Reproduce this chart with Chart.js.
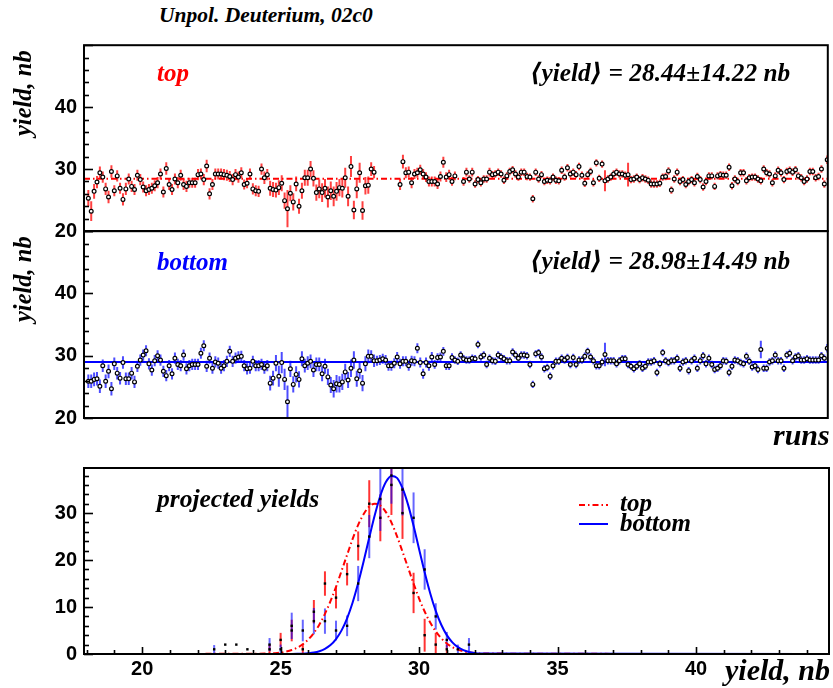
<!DOCTYPE html>
<html>
<head>
<meta charset="utf-8">
<script src="https://cdn.jsdelivr.net/npm/chart.js@4.4.1/dist/chart.umd.min.js"></script>
<style>
  html, body { margin: 0; padding: 0; background: #fff; }
  #page { position: relative; width: 833px; height: 688px; overflow: hidden; background: #fff; }
  canvas { position: absolute; left: 0; }
  .t { position: absolute; font-family: "Liberation Serif", "DejaVu Serif", serif; font-weight: bold;
       font-style: italic; white-space: nowrap; line-height: 1; color: #000; }
  .rot { transform-origin: left top; transform: rotate(-90deg); }
</style>
</head>
<body>
<div id="page">
  <canvas id="cTop" width="833" height="200" style="top:40px"></canvas>
  <canvas id="cMid" width="833" height="200" style="top:226px"></canvas>
  <canvas id="cHist" width="833" height="228" style="top:460px"></canvas>

  <div class="t" style="left:159px;top:5px;font-size:21.5px;">Unpol. Deuterium, 02c0</div>
  <div class="t rot" style="left:11px;top:136px;font-size:24.5px;">yield, nb</div>
  <div class="t rot" style="left:11px;top:322px;font-size:24.5px;">yield, nb</div>
  <div class="t" style="left:157px;top:60px;font-size:25px;color:#f00;">top</div>
  <div class="t" id="meanTopLabel" style="left:530px;top:60px;font-size:25.3px;"></div>
  <div class="t" style="left:157px;top:249px;font-size:25px;color:#00f;">bottom</div>
  <div class="t" id="meanBottomLabel" style="left:530px;top:248px;font-size:25.3px;"></div>
  <div class="t" style="left:773px;top:420px;font-size:30px;">runs</div>
  <div class="t" style="left:157px;top:486px;font-size:25.5px;">projected yields</div>
  <div class="t" style="left:620px;top:490px;font-size:25px;">top</div>
  <div class="t" style="left:620px;top:510px;font-size:25px;">bottom</div>
  <div class="t" style="left:725px;top:655px;font-size:30px;">yield, nb</div>
</div>

<script>
// ---------- per-run yields (nb), upper and lower detector halves ----------
const runsTop = [
  25.3, 23.2, 26.4, 27.9, 29.4, 28.7, 26.8, 25.5, 29.6, 26.5,
  28.9, 26.9, 25.1, 26.8, 28.4, 27.2, 26.7, 29.0, 28.3, 27.1,
  26.5, 26.7, 26.9, 27.3, 27.8, 29.2, 26.3, 30.1, 27.5, 26.7,
  28.4, 27.8, 29.0, 27.5, 27.2, 27.8, 27.8, 27.8, 29.1, 29.2,
  28.3, 30.5, 26.0, 27.5, 29.2, 29.2, 29.2, 29.1, 29.0, 28.8,
  28.3, 29.1, 28.7, 29.4, 27.5, 27.7, 29.2, 26.8, 26.5, 26.4,
  30.0, 28.6, 29.1, 26.9, 26.7, 26.6, 27.0, 27.7, 24.9, 23.6,
  26.1, 24.7, 27.6, 24.0, 26.5, 28.6, 28.6, 30.0, 28.5, 26.2,
  26.8, 26.2, 26.9, 25.5, 26.5, 25.6, 26.4,
  27.0, 26.9, 28.6, 25.6, 30.4, 23.4, 26.8, 29.4, 23.3, 27.3, 27.4, 30.0, 29.5,
  null, null, null, null, null, null, null, null,
  27.5, 31.2, 29.4, 29.5, 27.8, 29.2, 29.4, 29.9, 29.2, 28.7,
  28.0, 28.0, 28.0, 27.6, 28.8, 31.1, 28.7, 29.1, 28.0, 28.9,
  null, null,
  28.0, 29.5, 28.4, 29.5, 27.6, 28.3, 27.8, 28.4, 28.4, 29.5,
  29.1, 29.2, 29.5, 29.2, 28.2, 28.9, 29.6, 29.9, 29.2, 28.7,
  29.5, 29.5, 28.8, 28.7, 25.2, 29.5, 28.4, 29.1, 28.0, 28.2,
  28.1, 28.7, 28.2, 28.1, 29.8, 28.7, 30.2, 29.2, 29.5, 29.1,
  30.4, 29.0, 27.7,
  29.1, 29.6, 27.8, 31.0, 28.5, 30.8, 28.1, 28.4, 28.7, 29.2,
  29.5, 29.2, 29.2, 29.0, 29.1, 28.3, 28.4, 28.7, 28.3, 28.6,
  28.4, 28.2, 27.6, 27.6, 27.6, 27.7, 28.7, 28.8, 29.7, 26.6,
  28.4, 29.5, 28.0, 28.3, 27.5, 28.0, 28.3, 27.8, 28.8, 28.3,
  27.1, 28.0, 28.9, 28.9, 27.2, 28.9, 29.1, 29.0, 29.0, 30.3,
  27.3, 28.4, 28.0, 29.4, 29.4, 28.1, 28.6, 28.7, 28.7, 28.4,
  28.1, 30.0, 29.4, 29.2, 27.8, 28.9, 29.8, 29.4, 28.3, 29.6,
  29.8, 29.5, 29.9, 28.9, 28.6, 28.0, 28.4, 29.6, 29.6, 28.6,
  28.8, 30.0, 27.6, 31.5
];
const runsTopErr = [
  1.3, 1.6, 1.2, 1.0, 1.0, 0.9, 1.0, 1.0, 1.0, 0.9,
  0.9, 0.9, 1.0, 1.0, 0.9, 0.9, 0.9, 0.9, 0.9, 0.9,
  0.9, 0.9, 0.9, 0.9, 0.9, 0.9, 0.9, 1.0, 0.9, 0.9,
  0.9, 0.9, 0.9, 0.9, 0.9, 0.8, 0.8, 0.8, 0.9, 0.9,
  0.9, 1.0, 0.9, 0.9, 0.9, 0.9, 0.9, 0.9, 0.9, 0.9,
  0.9, 0.9, 0.9, 0.9, 0.8, 0.8, 0.9, 0.9, 0.9, 0.9,
  0.9, 1.0, 0.9, 1.2, 1.2, 1.2, 1.2, 1.3, 1.3, 3.0,
  1.3, 1.4, 1.2, 1.2, 1.3, 1.3, 1.3, 1.3, 1.3, 1.3,
  1.5, 1.5, 1.5, 1.7, 1.5, 1.6, 1.5,
  1.4, 1.5, 1.6, 1.6, 1.7, 1.5, 1.5, 1.6, 1.5, 1.4, 1.4, 1.1, 1.0,
  null, null, null, null, null, null, null, null,
  0.9, 1.1, 0.9, 0.9, 0.9, 0.8, 0.8, 0.8, 0.8, 0.8,
  0.8, 0.8, 0.8, 0.8, 0.8, 0.9, 0.8, 0.8, 0.7, 0.7,
  null, null,
  0.7, 0.7, 0.6, 0.7, 0.6, 0.6, 0.6, 0.6, 0.6, 0.7,
  0.6, 0.6, 0.6, 0.6, 0.6, 0.6, 0.6, 0.6, 0.6, 0.6,
  0.6, 0.6, 0.6, 0.6, 0.6, 0.6, 0.6, 0.6, 0.6, 0.6,
  0.6, 0.6, 0.6, 0.6, 0.6, 0.6, 0.6, 0.6, 0.6, 0.6,
  0.6, 0.6, 0.6,
  0.6, 0.6, 0.6, 0.6, 0.6, 0.6, 1.7, 0.6, 0.6, 0.6,
  0.6, 0.6, 0.6, 0.6, 1.9, 0.6, 0.6, 0.6, 0.6, 0.6,
  0.6, 0.6, 0.6, 0.6, 0.6, 0.6, 0.6, 0.6, 0.6, 0.6,
  0.6, 0.6, 0.6, 0.6, 0.6, 0.6, 0.6, 0.6, 0.6, 0.6,
  0.6, 0.6, 0.6, 0.6, 0.6, 0.6, 0.6, 0.6, 0.6, 0.6,
  0.6, 0.6, 0.6, 0.6, 0.6, 0.6, 0.6, 0.6, 0.6, 0.6,
  0.6, 0.6, 0.6, 0.6, 0.6, 0.6, 0.6, 0.6, 0.6, 0.6,
  0.6, 0.6, 0.6, 0.6, 0.6, 0.6, 0.6, 0.6, 0.6, 0.6,
  0.6, 0.6, 0.6, 0.7
];
const runsBottom = [
  25.9, 25.9, 26.2, 26.3, 25.1, 28.4, 25.9, 27.5, 24.7, 28.7,
  27.2, 26.4, 28.9, 26.3, 26.3, 27.2, 25.8, 28.3, 29.3, 30.1,
  30.8, 28.7, 27.7, 29.2, 30.0, 29.3, 27.5, 26.8, 28.4, 27.1,
  29.6, 28.6, 28.4, 30.1, 27.9, 28.4, 28.6, 28.6, 28.6, 30.4,
  31.6, 28.3, 29.6, 28.0, 29.0, 28.8, 28.0, 28.4, 29.1, 30.7,
  29.1, 29.6, 29.8, 29.9, 28.4, 27.9, 28.0, 29.1, 28.4, 28.4,
  28.6, 28.0, 28.4, 25.6, 26.4, 28.8, 26.7, 28.9, 26.2, 22.6,
  27.9, 25.4, 27.0, 26.2, 29.5, 28.4, 28.8, 29.1, 27.7, 28.6,
  28.6, 27.1, 28.3, 26.6, 25.3, 24.7, 25.5,
  25.4, 25.8, 27.4, 26.1, 28.0, 29.3, 26.3, 27.6, 25.6, 28.7,
  29.9, 29.9, 29.2, 29.2, 29.3, 29.5, 29.3, 28.4, 28.4, 28.8,
  29.8, 28.7, 29.1, 29.1, 28.4, 29.2, 29.1, 31.2, 28.9, 27.1,
  28.9, 28.4, 29.8, 28.6, 29.7, 29.8, 30.7, 28.4, 28.4, 29.7,
  29.3, 29.1, 30.1, 29.5, 29.3, 29.3, 29.6, 29.5, 31.8, 29.8,
  30.1, 28.6, 29.6, 29.2, 29.1, 30.1, 29.8, 29.5, 29.2, 29.2,
  30.6, 30.1, 29.6, 30.1, 30.1, 30.0, 28.6, 25.4, 30.3, 30.5,
  29.8, 27.9, 28.1, 26.7, 28.4, 29.1, 29.1, 29.6, 29.3, 29.7,
  28.6, 29.7, 28.6, 29.3, 29.3, 29.9,
  30.7, 29.8, 29.2, 28.4, 28.4, 29.0, 30.2, 29.2, 29.2, 29.2,
  28.7, 29.2, 29.5, 29.5, 28.6, 28.3, 27.9, 28.3, 28.7, 28.0,
  28.3, 29.0, 29.0, 29.2, 27.3, 28.7, 30.5, 29.2, 28.9, 29.2,
  29.2, 29.6, 28.0, 29.0, 29.2, 27.6, 29.2, 29.6, 28.0, 29.2,
  30.0, 28.7, 29.6, 28.6, 27.8, 28.0, 28.4, 29.2, 29.1, 27.3,
  28.3, 29.3, 29.2, 28.9, 28.7, 29.9, 29.1, 28.2, 28.4, 27.8,
  31.0, 28.0, 28.0, 29.0, 29.2, 30.1, 29.2, 29.2, 28.0, 30.1,
  30.4, 29.2, 29.8, 30.0, 29.3, 29.3, 29.5, 29.3, 29.3, 29.3,
  29.3, 30.0, 29.6, 31.2
];
const runsBottomErr = [
  1.1, 1.1, 1.1, 1.1, 1.1, 1.0, 1.1, 1.1, 1.1, 1.0,
  1.0, 1.0, 1.0, 1.0, 1.0, 1.0, 1.0, 0.9, 0.9, 0.9,
  0.9, 0.9, 0.9, 0.9, 0.9, 0.9, 0.9, 0.9, 0.9, 0.9,
  0.9, 0.9, 0.9, 0.9, 0.9, 0.9, 0.9, 0.9, 0.9, 0.9,
  0.9, 0.9, 0.9, 0.9, 0.9, 0.9, 0.9, 0.9, 0.9, 0.9,
  0.9, 0.9, 0.9, 0.9, 0.9, 0.9, 0.9, 0.9, 0.9, 0.9,
  0.9, 0.9, 0.9, 1.2, 1.2, 1.3, 1.7, 1.7, 1.7, 2.6,
  1.3, 1.3, 1.3, 1.3, 1.2, 1.1, 1.1, 1.1, 1.1, 1.1,
  1.1, 1.2, 1.2, 1.3, 1.3, 1.4, 1.4,
  1.3, 1.3, 1.3, 1.3, 1.4, 1.4, 1.3, 1.3, 1.3, 1.2,
  1.1, 1.0, 1.0, 0.8, 0.8, 0.8, 0.8, 0.8, 0.8, 0.8,
  0.8, 0.8, 0.8, 0.8, 0.8, 0.8, 0.8, 0.8, 0.8, 0.8,
  0.8, 0.8, 0.8, 0.7, 0.7, 0.7, 0.7, 0.7, 0.7, 0.7,
  0.6, 0.6, 0.6, 0.6, 0.6, 0.6, 0.6, 0.6, 0.6, 0.6,
  0.6, 0.6, 0.6, 0.6, 0.6, 0.6, 0.6, 0.6, 0.6, 0.6,
  0.6, 0.6, 0.6, 0.6, 0.6, 0.6, 0.6, 0.6, 0.6, 0.6,
  0.6, 0.6, 0.6, 0.6, 0.6, 0.6, 0.6, 0.6, 0.6, 0.6,
  0.6, 0.6, 0.6, 0.6, 0.6, 0.6,
  0.6, 0.6, 0.6, 0.6, 0.6, 0.6, 1.9, 0.6, 0.6, 0.6,
  0.6, 0.6, 0.6, 0.6, 0.6, 0.6, 0.6, 0.6, 0.6, 0.6,
  0.6, 0.6, 0.6, 0.6, 0.6, 0.6, 0.6, 0.6, 0.6, 0.6,
  0.6, 0.6, 0.6, 0.6, 0.6, 0.6, 0.6, 0.6, 0.6, 0.6,
  0.6, 0.6, 0.6, 0.6, 0.6, 0.6, 0.6, 0.6, 0.6, 0.6,
  0.6, 0.6, 0.6, 0.6, 0.6, 0.6, 0.6, 0.6, 0.6, 0.6,
  1.4, 0.6, 0.6, 0.6, 0.6, 0.6, 0.6, 0.6, 0.6, 0.6,
  0.6, 0.6, 0.6, 0.6, 0.6, 0.6, 0.6, 0.6, 0.6, 0.6,
  0.6, 0.6, 0.6, 0.7
];
const meanTop = 28.44, rmsTop = 14.22;
const meanBottom = 28.98, rmsBottom = 14.49;
const panelYTicks = [20, 30, 40];
const runsXRange = [-1.5, 256.2];

// ---------- projected yield histograms (0.4 nb bins) ----------
const histBins = [22.6, 23.0, 23.4, 23.8, 24.2, 24.6, 25.0, 25.4, 25.8, 26.2, 26.6, 27.0,
                  27.4, 27.8, 28.2, 28.6, 29.0, 29.4, 29.8, 30.2, 30.6, 31.0, 31.4, 31.8];
const histTop       = [0, 2, 2, 1, 0, 1, 3, 5, 1, 9, 15, 12, 17, 23, 32, 29, 36, 30, 13, 4, 2, 1, 0, 0];
const histTopErr    = [0, 0, 0, 0, 0, 1.0, 1.5, 2.3, 1.2, 2.5, 2.6, 2.3, 2.4, 3.1, 5.0, 5.0, 6.4, 5.5, 4.3, 3.5, 2.5, 1.0, 0, 0];
const histBottom    = [1, 0, 0, 0, 0, 2, 1, 6, 5, 7, 7, 5, 6, 15, 25, 33, 38, 35, 29, 18, 8, 3, 1, 2];
const histBottomErr = [0.9, 0, 0, 0, 0, 1.4, 1.0, 2.8, 2.3, 2.8, 2.7, 2.1, 2.2, 3.75, 4.6, 6.8, 6.0, 5.5, 5.4, 4.3, 2.8, 1.7, 1.0, 1.4];

// fitted gaussian curves, sampled
const fitX = [17.9, 24.6, 24.8, 25.0, 25.2, 25.4, 25.6, 25.8, 26.0, 26.2, 26.4, 26.6, 26.8, 27.0, 27.2,
              27.4, 27.6, 27.8, 28.0, 28.2, 28.4, 28.6, 28.8, 29.0, 29.2, 29.4, 29.6, 29.8, 30.0,
              30.2, 30.4, 30.6, 30.8, 31.0, 31.2, 31.4, 31.6, 31.8, 32.0, 32.2, 44.8];
const fitTop = [0, 0.09, 0.17, 0.30, 0.52, 0.84, 1.34, 2.08, 3.10, 4.49, 6.29, 8.55, 11.25, 14.3, 17.7,
                21.1, 24.5, 27.5, 29.8, 31.4, 32.0, 31.6, 30.2, 28.0, 25.1, 21.8, 18.4, 15.0, 11.8,
                9.05, 6.71, 4.81, 3.35, 2.25, 1.47, 0.93, 0.57, 0.34, 0.19, 0.10, 0];
const fitBottom = [0, 0, 0, 0, 0, 0.01, 0.03, 0.07, 0.16, 0.31, 0.60, 1.10, 1.91, 3.18, 5.03,
                   7.61, 10.97, 15.1, 19.8, 24.8, 29.6, 33.7, 36.6, 37.9, 37.5, 35.3, 31.8, 27.3, 22.3,
                   17.4, 12.95, 9.19, 6.22, 4.02, 2.48, 1.46, 0.82, 0.44, 0.22, 0.11, 0];
const histXRange = [17.9, 44.8];
const histYRange = [0, 39.6];
const histXTicks = [20, 25, 30, 35, 40];
const histYTicks = [0, 10, 20, 30];

// ---------- drawing ----------
const RED = '#ff0000', BLUE = '#0000ff';
const DASHDOT = [6, 3, 1.5, 3];
const tickFont = { family: '"Liberation Sans", Arial, sans-serif', weight: 'bold', size: 20 };

document.getElementById('meanTopLabel').textContent =
  '\u27E8yield\u27E9 = ' + meanTop.toFixed(2) + '\u00B1' + rmsTop.toFixed(2) + ' nb';
document.getElementById('meanBottomLabel').textContent =
  '\u27E8yield\u27E9 = ' + meanBottom.toFixed(2) + '\u00B1' + rmsBottom.toFixed(2) + ' nb';

// vertical error bars, drawn beneath the markers
const errorBars = {
  id: 'errorBars',
  beforeDatasetsDraw(chart) {
    const { ctx, chartArea: a } = chart;
    ctx.save();
    ctx.beginPath();
    ctx.rect(a.left, a.top, a.width, a.height);
    ctx.clip();
    chart.data.datasets.forEach((ds, i) => {
      if (!ds.errColor) return;
      const meta = chart.getDatasetMeta(i);
      const ys = chart.scales[meta.yAxisID];
      ctx.strokeStyle = ds.errColor;
      ctx.lineWidth = 2;
      meta.data.forEach((el, j) => {
        const p = ds.data[j];
        if (!p || !p.e) return;
        ctx.beginPath();
        ctx.moveTo(el.x, ys.getPixelForValue(p.y - p.e));
        ctx.lineTo(el.x, ys.getPixelForValue(p.y + p.e));
        ctx.stroke();
      });
    });
    ctx.restore();
  }
};

// frame with inward-pointing major/minor ticks
const frameTicks = {
  id: 'frameTicks',
  afterDatasetsDraw(chart, args, o) {
    const { ctx, chartArea: a } = chart;
    ctx.save();
    ctx.strokeStyle = '#000';
    ctx.lineWidth = 1.6;
    const ys = chart.scales.y;
    for (let v = ys.min; v <= ys.max + 1e-6; v += o.yMinor) {
      const major = Math.abs(v / o.yMajor - Math.round(v / o.yMajor)) < 1e-6;
      const py = Math.round(ys.getPixelForValue(v)) + 0.5;
      ctx.beginPath();
      ctx.moveTo(a.left, py);
      ctx.lineTo(a.left + (major ? o.majorLen : o.minorLen), py);
      ctx.stroke();
    }
    if (o.xMinor) {
      const xs = chart.scales.x;
      for (let v = Math.ceil(xs.min); v <= xs.max + 1e-6; v += o.xMinor) {
        const major = Math.abs(v / o.xMajor - Math.round(v / o.xMajor)) < 1e-6;
        const px = Math.round(xs.getPixelForValue(v)) + 0.5;
        ctx.beginPath();
        ctx.moveTo(px, a.bottom);
        ctx.lineTo(px, a.bottom - (major ? o.xMajorLen : o.xMinorLen));
        ctx.stroke();
      }
    }
    ctx.lineWidth = 2;
    ctx.strokeRect(a.left, a.top, a.width, a.height);
    ctx.restore();
  }
};

// legend line samples for the histogram panel
const histLegend = {
  id: 'histLegend',
  afterDraw(chart) {
    const ctx = chart.ctx;
    ctx.save();
    ctx.lineWidth = 2;
    ctx.strokeStyle = RED;
    ctx.setLineDash(DASHDOT);
    ctx.beginPath(); ctx.moveTo(579, 45); ctx.lineTo(608, 45); ctx.stroke();
    ctx.setLineDash([]);
    ctx.strokeStyle = BLUE;
    ctx.beginPath(); ctx.moveTo(579, 64); ctx.lineTo(608, 64); ctx.stroke();
    ctx.restore();
  }
};

function yAxis(min, max, ticks) {
  return {
    type: 'linear', min, max,
    afterBuildTicks: s => { s.ticks = ticks.map(v => ({ value: v })); },
    afterFit: s => { s.width = 84; s.paddingTop = 0; s.paddingBottom = 0; },
    ticks: { font: tickFont, color: '#000', padding: 7 },
    grid: { display: false, drawTicks: false },
    border: { display: false }
  };
}

function runsPanel(id, values, errs, color, barColor, mean, dash, padTop, padBottom) {
  const pts = [];
  values.forEach((v, i) => { if (v !== null) pts.push({ x: i, y: v, e: errs[i] }); });
  return new Chart(document.getElementById(id), {
    type: 'scatter',
    data: {
      datasets: [
        { data: pts, errColor: barColor, order: 1,
          pointStyle: 'circle', pointRadius: 1.9, pointBorderWidth: 1.2,
          pointBorderColor: '#000', pointBackgroundColor: '#fff' },
        { type: 'line', order: 2,
          data: [{ x: runsXRange[0], y: mean }, { x: runsXRange[1], y: mean }],
          borderColor: color, borderWidth: 2, borderDash: dash, pointRadius: 0 }
      ]
    },
    options: {
      responsive: false, animation: false, devicePixelRatio: 1,
      layout: { padding: { top: padTop, right: 2, bottom: padBottom, left: 0 } },
      scales: {
        x: { type: 'linear', min: runsXRange[0], max: runsXRange[1], display: false },
        y: yAxis(20, 50, panelYTicks)
      },
      plugins: {
        legend: { display: false }, tooltip: { enabled: false },
        frameTicks: { yMinor: 2, yMajor: 10, majorLen: 9, minorLen: 5 }
      }
    },
    plugins: [errorBars, frameTicks]
  });
}

runsPanel('cTop', runsTop, runsTopErr, RED, 'rgba(255,0,0,0.75)', meanTop, DASHDOT, 5, 9);
runsPanel('cMid', runsBottom, runsBottomErr, BLUE, 'rgba(0,0,255,0.7)', meanBottom, [], 5, 8);

function histPoints(vals, errs) {
  const out = [];
  vals.forEach((v, i) => { if (v > 0) out.push({ x: histBins[i], y: v, e: errs[i] }); });
  return out;
}
function fitPoints(vals) {
  return fitX.map((x, i) => ({ x, y: vals[i] }));
}

new Chart(document.getElementById('cHist'), {
  type: 'scatter',
  data: {
    datasets: [
      { label: 'top', data: histPoints(histTop, histTopErr), errColor: 'rgba(255,0,0,0.8)', order: 0,
        pointStyle: 'rect', pointRadius: 1.7, pointBorderWidth: 0, pointBackgroundColor: '#000' },
      { label: 'bottom', data: histPoints(histBottom, histBottomErr), errColor: 'rgba(0,0,255,0.6)', order: 0,
        pointStyle: 'rect', pointRadius: 1.7, pointBorderWidth: 0, pointBackgroundColor: '#000' },
      { type: 'line', label: 'top fit', data: fitPoints(fitTop), order: 2,
        borderColor: RED, borderWidth: 2, borderDash: DASHDOT, pointRadius: 0,
        cubicInterpolationMode: 'monotone' },
      { type: 'line', label: 'bottom fit', data: fitPoints(fitBottom), order: 1,
        borderColor: BLUE, borderWidth: 2, pointRadius: 0, cubicInterpolationMode: 'monotone' }
    ]
  },
  options: {
    responsive: false, animation: false, devicePixelRatio: 1,
    layout: { padding: { top: 8, right: 2, bottom: 0, left: 0 } },
    scales: {
      x: {
        type: 'linear', min: histXRange[0], max: histXRange[1],
        afterBuildTicks: s => { s.ticks = histXTicks.map(v => ({ value: v })); },
        afterFit: s => { s.height = 34; s.paddingLeft = 0; s.paddingRight = 0; },
        ticks: { font: tickFont, color: '#000', padding: 3, maxRotation: 0, autoSkip: false },
        grid: { display: false, drawTicks: false },
        border: { display: false }
      },
      y: yAxis(histYRange[0], histYRange[1], histYTicks)
    },
    plugins: {
      legend: { display: false }, tooltip: { enabled: false },
      frameTicks: { yMinor: 2, yMajor: 10, majorLen: 9, minorLen: 5,
                    xMinor: 1, xMajor: 5, xMajorLen: 7, xMinorLen: 4 }
    }
  },
  plugins: [errorBars, frameTicks, histLegend]
});
</script>
</body>
</html>
